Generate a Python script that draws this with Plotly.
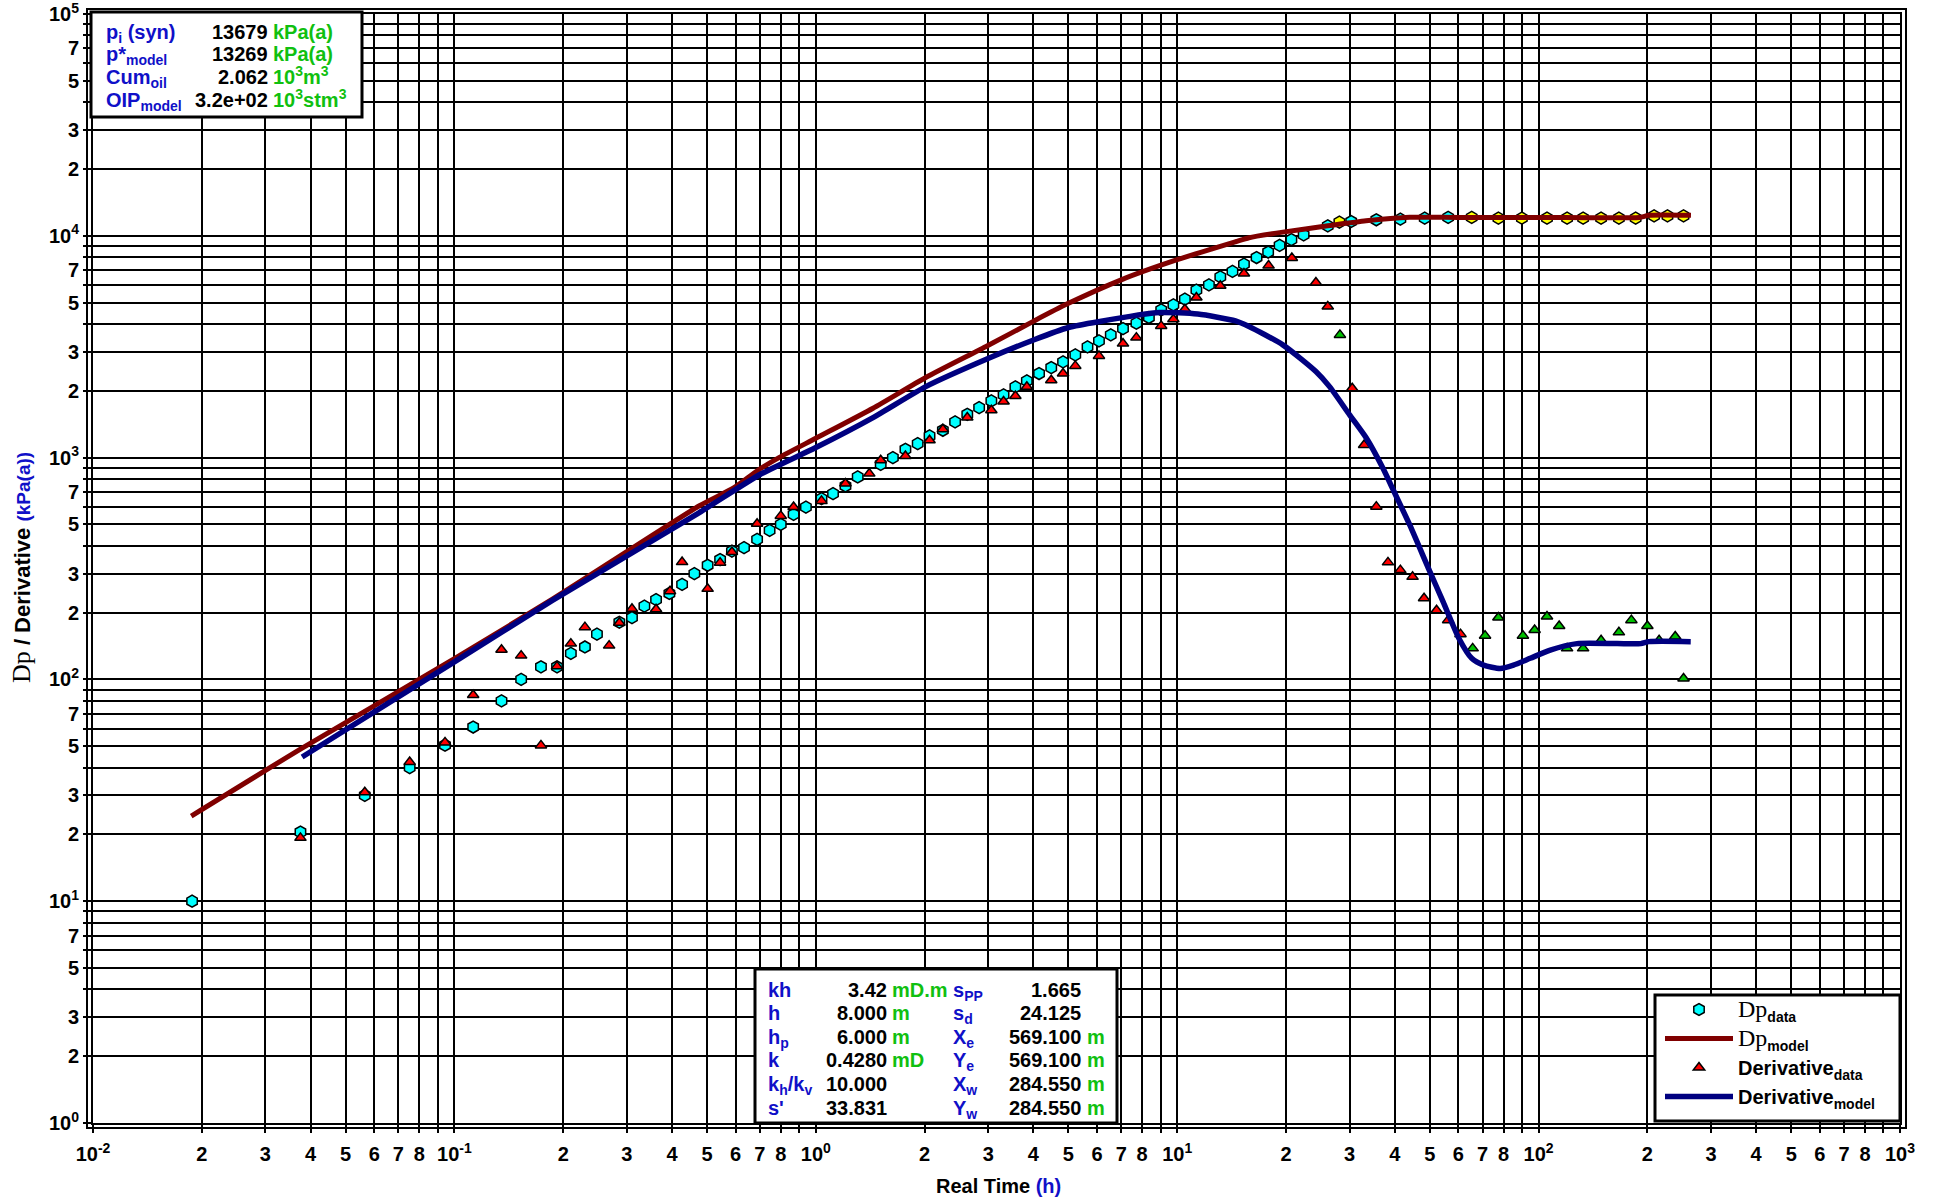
import plotly.graph_objects as go

# ---------------- data ----------------
dp_time = [0.0188, 0.0375, 0.0565, 0.0752, 0.0942, 0.1127, 0.135, 0.153, 0.1736, 0.1923,
           0.21, 0.2297, 0.248, 0.286, 0.310, 0.3355, 0.3614, 0.3934, 0.4266, 0.4613,
           0.502, 0.5435, 0.586, 0.633, 0.688, 0.745, 0.80, 0.868, 0.939, 1.037,
           1.116, 1.208, 1.306, 1.512, 1.634, 1.77, 1.914, 2.064, 2.247, 2.429,
           2.625, 2.831, 3.06, 3.308, 3.566, 3.837, 4.147, 4.482, 4.832, 5.224,
           5.647, 6.075, 6.549, 7.08, 7.71, 8.35, 9.03, 9.76, 10.5, 11.3,
           12.24, 13.16, 14.22, 15.3, 16.58, 17.85, 19.2, 20.7, 22.38, 26.1,
           28.1, 30.3, 35.56, 41.45, 48.4, 56.2, 65.3, 77.4, 89.9, 105.5,
           119.9, 132.8, 148.9, 166.8, 185.6, 208.7, 227.3, 251.8]
dp_value = [10, 20.5, 30, 40, 50.5, 61, 80, 100, 114, 114,
            131, 140, 160, 181, 190, 214, 229, 244, 268, 300,
            327, 347, 379, 393, 428, 470, 500, 555, 598, 653,
            688, 745, 818, 933, 1000, 1090, 1156, 1252, 1328, 1448,
            1568, 1681, 1802, 1919, 2085, 2219, 2394, 2547, 2702, 2905,
            3155, 3358, 3574, 3818, 4036, 4281, 4635, 4885, 5177, 5687,
            6010, 6533, 6908, 7454, 7982, 8450, 9050, 9620, 10100, 11090,
            11520, 11600, 11810, 11890, 12020, 12100, 12100, 12020, 12020, 12020,
            12020, 12020, 12020, 12020, 12020, 12300, 12300, 12300]
# 0 = regular point (cyan), 1 = flagged point (yellow)
dp_flag = [0] * 70 + [1, 0, 0, 0, 0, 0] + [1] * 12

der_time = [0.0375, 0.0565, 0.0752, 0.0942, 0.1127, 0.135, 0.153, 0.1736, 0.1923, 0.21,
            0.2297, 0.268, 0.286, 0.310, 0.3614, 0.395, 0.4266, 0.502, 0.5435, 0.586,
            0.688, 0.80, 0.868, 1.037, 1.208, 1.406, 1.512, 1.77, 2.064, 2.247,
            2.625, 3.06, 3.308, 3.566, 3.837, 4.482, 4.832, 5.224, 6.075, 7.08,
            7.71, 9.03, 9.76, 10.5, 11.3, 13.16, 15.3, 17.9, 20.76, 24.2,
            26.1, 28.2, 30.5, 32.9, 35.56, 38.3, 41.45, 44.8, 48.2, 52.2,
            56.2, 60.8, 65.7, 71.1, 77.4, 90.5, 97.5, 105.5, 114, 119.9,
            132.8, 148.9, 166.8, 180.6, 200, 215.5, 238.8, 251.8]
der_value = [19.3, 31, 42.4, 52, 85, 136, 128, 50.4, 114.5, 145,
             172, 142, 180, 208, 207, 250, 338, 256, 336, 375,
             503, 546, 599, 638, 764, 847, 973, 1017, 1197, 1342,
             1515, 1635, 1789, 1897, 2085, 2234, 2394, 2591, 2874, 3266,
             3475, 3925, 4207, 4667, 5270, 5950, 6761, 7340, 7950, 6155,
             4797, 3575, 2056, 1140, 601, 337, 311, 290, 232, 205,
             185, 160, 138, 157.5, 190, 157.5, 167, 192, 174, 138,
             138, 150, 163, 185, 174, 150, 156, 101]
# 0 = regular point (red), 1 = flagged point (green)
der_flag = [0] * 51 + [1] + [0] * 10 + [1] * 16

model_dp_time = [0.0187, 0.0379, 0.1, 0.1867, 0.475, 0.594, 0.692, 0.791, 1.0, 1.44,
                 2.015, 2.985, 4.02, 4.95, 7.0, 10.0, 14.5, 15.8, 19.6, 26.1,
                 33.3, 44.0, 60.0, 100.0, 190.0, 202.0, 264.0]
model_dp_value = [24.2, 49, 124, 230, 605, 732, 877, 1000, 1222, 1670,
                  2296, 3192, 4135, 4920, 6331, 7800, 9400, 9800, 10390, 11090,
                  11690, 12120, 12100, 12100, 12100, 12370, 12370]

model_der_time = [0.0379, 0.1, 0.1867, 0.475, 0.703, 1.0, 1.44, 2.015, 2.985, 4.02,
                  5.0, 6.05, 8.93, 11.4, 14.5, 15.8, 19.6, 24.2, 26.4, 30.0,
                  33.4, 37.1, 39.8, 44.0, 49.6, 54.4, 60.2, 65.3, 70.4, 78.3,
                  85.2, 94.8, 107.7, 127.7, 165.0, 191.7, 202.0, 263.6]
model_der_value = [44.7, 120, 227, 564, 841, 1110, 1515, 2090, 2790, 3400,
                   3860, 4100, 4508, 4436, 4135, 3900, 3222, 2444, 2089, 1558,
                   1222, 895, 703, 497, 316, 224, 153, 124.5, 116, 112,
                   116, 124.5, 135.6, 145, 145, 145, 148, 148]

x_minor_labels = ["2", "3", "4", "5", "6", "7", "8", ""]
y_minor_labels = ["2", "3", "", "5", "", "7", "", ""]

info_labels = ["p<sub>i</sub> (syn)", "p*<sub>model</sub>", "Cum<sub>oil</sub>", "OIP<sub>model</sub>"]
info_values = ["13679", "13269", "2.062", "3.2e+02"]
info_units = ["kPa(a)", "kPa(a)", "10<sup>3</sup>m<sup>3</sup>", "10<sup>3</sup>stm<sup>3</sup>"]

par_labels_1 = ["kh", "h", "h<sub>p</sub>", "k", "k<sub>h</sub>/k<sub>v</sub>", "s'"]
par_values_1 = ["3.42", "8.000", "6.000", "0.4280", "10.000", "33.831"]
par_units_1 = ["mD.m", "m", "m", "mD", "", ""]
par_labels_2 = ["s<sub>PP</sub>", "s<sub>d</sub>", "X<sub>e</sub>", "Y<sub>e</sub>", "X<sub>w</sub>", "Y<sub>w</sub>"]
par_values_2 = ["1.665", "24.125", "569.100", "569.100", "284.550", "284.550"]
par_units_2 = ["", "", "m", "m", "m", "m"]

# ---------------- styling / layout constants ----------------
W, H = 1940, 1199
L, R, T, B = 93, 1900, 14, 1123
FONT = "Liberation Sans, Arial, sans-serif"
BLUE = "#1010C8"
GREEN = "#10C010"
ASC, DESC = 0.905, 0.212


def xp(px):
    return (px - L) / (R - L)


def yp(py):
    return (B - py) / (B - T)


def pick(values, flags, want):
    return [v for v, f in zip(values, flags) if f == want]


fig = go.Figure()

fig.add_trace(go.Scatter(
    x=pick(dp_time, dp_flag, 0), y=pick(dp_value, dp_flag, 0), mode="markers",
    name="<span style='font-family:Liberation Serif;font-weight:normal;font-size:24px'>Dp</span><sub>data</sub>",
    marker=dict(symbol="hexagon", size=12, color="#00FFFF", line=dict(color="black", width=1.5)),
    legendrank=1))
fig.add_trace(go.Scatter(
    x=pick(dp_time, dp_flag, 1), y=pick(dp_value, dp_flag, 1), mode="markers", showlegend=False,
    marker=dict(symbol="hexagon", size=12, color="#FFFF00", line=dict(color="black", width=1.5))))
fig.add_trace(go.Scatter(
    x=pick(der_time, der_flag, 0), y=pick(der_value, der_flag, 0), mode="markers",
    name="Derivative<sub>data</sub>",
    marker=dict(symbol="triangle-up", size=10, color="#FF0000", line=dict(color="black", width=1.5)),
    legendrank=3))
fig.add_trace(go.Scatter(
    x=pick(der_time, der_flag, 1), y=pick(der_value, der_flag, 1), mode="markers", showlegend=False,
    marker=dict(symbol="triangle-up", size=10, color="#00C000", line=dict(color="black", width=1.5))))
fig.add_trace(go.Scatter(
    x=model_dp_time, y=model_dp_value, mode="lines",
    name="<span style='font-family:Liberation Serif;font-weight:normal;font-size:24px'>Dp</span><sub>model</sub>",
    line=dict(color="#800000", width=5, shape="spline", smoothing=0.6), legendrank=2))
fig.add_trace(go.Scatter(
    x=model_der_time, y=model_der_value, mode="lines",
    name="Derivative<sub>model</sub>",
    line=dict(color="#000080", width=5.5, shape="spline", smoothing=0.6), legendrank=4))

# tick values: labelled ones as major ticks, the remaining 1..9 gridlines as minor ticks
xt_vals, xt_text, x_minor = [], [], []
for e in range(-2, 3):
    xt_vals.append(10.0 ** e)
    xt_text.append(f"10<sup>{e}</sup>")
    for k, lab in zip(range(2, 10), x_minor_labels):
        if lab:
            xt_vals.append(k * 10.0 ** e)
            xt_text.append(lab)
        else:
            x_minor.append(k * 10.0 ** e)
xt_vals.append(1000.0)
xt_text.append("10<sup>3</sup>")

yt_vals, yt_text, y_minor = [], [], []
for e in range(0, 5):
    yt_vals.append(10.0 ** e)
    yt_text.append(f"10<sup>{e}</sup>")
    for k, lab in zip(range(2, 10), y_minor_labels):
        if lab:
            yt_vals.append(k * 10.0 ** e)
            yt_text.append(lab)
        else:
            y_minor.append(k * 10.0 ** e)
yt_vals.append(1e5)
yt_text.append("10<sup>5</sup>")

axis_common = dict(
    type="log", ticks="outside", ticklen=8, tickwidth=2, tickcolor="black",
    showgrid=True, gridcolor="black", gridwidth=2, automargin=False,
    showline=True, linecolor="black", linewidth=2, mirror=True, zeroline=False,
    ticklabeloverflow="allow",
    tickfont=dict(family=FONT, size=20, color="black", weight="bold"),
)
minor_common = dict(ticks="outside", ticklen=8, tickwidth=2, tickcolor="black",
                    showgrid=True, gridcolor="black", gridwidth=2)
fig.update_xaxes(range=[-2, 3], tickvals=xt_vals, ticktext=xt_text, tickangle=0,
                 ticklabelstandoff=4, minor=dict(tickvals=x_minor, **minor_common), **axis_common)
fig.update_yaxes(range=[0, 5], tickvals=yt_vals, ticktext=yt_text,
                 minor=dict(tickvals=y_minor, **minor_common), **axis_common)

shapes = []
# outer line of the double frame
off_x = 6 / (R - L)
off_y = 5 / (B - T)
shapes.append(dict(type="rect", xref="paper", yref="paper", x0=-off_x, x1=1 + off_x,
                   y0=-off_y, y1=1 + off_y, line=dict(color="black", width=2), layer="above"))
# text boxes
for (x0, y0, x1, y1) in [(91, 12, 362, 117), (755, 969, 1117, 1123), (1655, 995, 1900, 1121)]:
    shapes.append(dict(type="rect", xref="paper", yref="paper", x0=xp(x0), x1=xp(x1),
                       y0=yp(y1), y1=yp(y0), fillcolor="white",
                       line=dict(color="black", width=3), layer="above"))

annotations = []


def cell(text, xpix, center_y, xanchor, size, color):
    if text == "":
        return
    base = center_y + 0.36 * size
    if "<sup>" in text and "<sub>" not in text:
        ypix, yanchor = base + DESC * size, "bottom"
    else:
        ypix, yanchor = base - ASC * size, "top"
    annotations.append(dict(
        text=text, xref="paper", yref="paper", x=xp(xpix), y=yp(ypix),
        xanchor=xanchor, yanchor=yanchor, showarrow=False, borderpad=0, borderwidth=0,
        font=dict(family=FONT, size=size, color=color, weight="bold")))


INFO_ROWS = [32, 54, 77, 100]
for i, yc in enumerate(INFO_ROWS):
    cell(info_labels[i], 106, yc, "left", 20, BLUE)
    cell(info_values[i], 268, yc, "right", 20, "black")
    cell(info_units[i], 273, yc, "left", 20, GREEN)

PAR_ROWS = [990, 1013, 1037, 1060, 1084, 1108]
for i, yc in enumerate(PAR_ROWS):
    cell(par_labels_1[i], 768, yc, "left", 20, BLUE)
    cell(par_values_1[i], 887, yc, "right", 20, "black")
    cell(par_units_1[i], 892, yc, "left", 20, GREEN)
    cell(par_labels_2[i], 953, yc, "left", 20, BLUE)
    cell(par_values_2[i], 1081, yc, "right", 20, "black")
    cell(par_units_2[i], 1087, yc, "left", 20, GREEN)

# axis titles
annotations.append(dict(
    text=f"Real Time <span style='color:{BLUE}'>(h)</span>", xref="paper", yref="paper",
    x=xp(998), y=yp(1186), xanchor="center", yanchor="middle", showarrow=False,
    font=dict(family=FONT, size=20, color="black", weight="bold")))
annotations.append(dict(
    text=("<span style='font-family:Liberation Serif;font-weight:normal;font-size:26px'>Dp</span>"
          f" / Derivative <span style='color:{BLUE};font-size:19px'>(kPa(a))</span>"),
    xref="paper", yref="paper", x=xp(22), y=yp(568), xanchor="center", yanchor="middle",
    textangle=-90, showarrow=False,
    font=dict(family=FONT, size=22, color="black", weight="bold")))

fig.update_layout(
    width=W, height=H, autosize=False,
    margin=dict(l=L, r=W - R, t=T, b=H - B, pad=0, autoexpand=False),
    paper_bgcolor="white", plot_bgcolor="white",
    font=dict(family=FONT, color="black"),
    shapes=shapes, annotations=annotations,
    showlegend=True,
    legend=dict(x=xp(1660), y=yp(990), xanchor="left", yanchor="top",
                bgcolor="rgba(0,0,0,0)", borderwidth=0, itemwidth=68,
                tracegroupgap=0, traceorder="normal",
                font=dict(family=FONT, size=20, color="black", weight="bold")),
)

fig.write_html("out.html", config={"displayModeBar": False},
               post_script="document.body.style.margin='0';document.body.style.overflow='hidden';")
